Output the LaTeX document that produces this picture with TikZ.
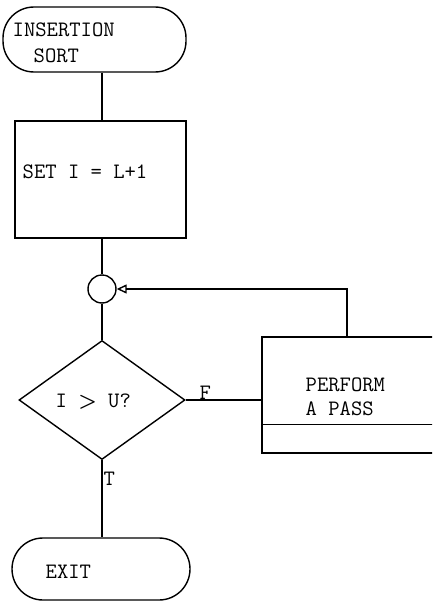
\documentclass[tikz,border=0pt]{standalone}
\usepackage{amsmath}
\usepackage{tikz}
\usetikzlibrary{shapes.geometric, arrows.meta, positioning}

\tikzset{
  terminal/.style={draw, rectangle, rounded corners=31pt, inner sep=0pt},
  procbox/.style={draw, rectangle, inner sep=0pt},
  joint/.style={draw, circle, minimum size=28pt, inner sep=0pt},
  decision/.style={draw, diamond, inner sep=0pt},
  txt/.style={anchor=base west, inner sep=0pt, font=\fontsize{22}{26}\ttfamily},
}

\begin{document}
\begin{tikzpicture}[x=1pt, y=-1pt, line width=1.4pt]
   \useasboundingbox (0,0) rectangle (432,602);
   \clip (0,0) rectangle (432,602);

   % start terminal
   \node[terminal, minimum width=183pt, minimum height=65pt] (start) at (94.5,39.5) {};
   \node[txt] (startA) at (12,37) {INSERTION};
   \node[txt] (startB) at (33,63) {SORT};

   % set I
   \node[procbox, minimum width=171pt, minimum height=117pt] (setI) at (100.5,179.5) {};
   \node[txt] (setT) at (22,178) {SET I = L+1};

   % connector circle
   \node[joint] (join) at (102,289) {};

   % test
   \node[decision, minimum width=166pt, minimum height=119pt] (test) at (102,400) {};
   \node[txt] (testT) at (55,407) {I $\boldsymbol{>}$ U?};

   % pass box (runs off the right edge)
   \node[procbox, minimum width=208pt, minimum height=116pt] (pass) at (366,395) {};
   \draw ([yshift=29pt]pass.south west) -- ([yshift=29pt]pass.south east);
   \node[txt] (passA) at (305,391) {PERFORM};
   \node[txt] (passB) at (305,415) {A PASS};

   % exit terminal
   \node[terminal, minimum width=178pt, minimum height=62pt] (exit) at (101,569) {};
   \node[txt] (exitT) at (45,578) {EXIT};

   % return point above the pass box
   \coordinate (back) at ([xshift=-19pt]pass.north);

   \draw (join.north |- start.south) -- (join.north |- setI.north);
   \draw (join.north |- setI.south) -- (join.north);
   \draw (join.south) -- (test.north);
   \draw (test.east) -- (test.east -| pass.west);
   \draw (test.south) -- (test.south |- exit.north);
   \draw[-{Triangle[open, length=10pt, width=9pt]}] (back) |- (join.east);

   % branch labels
   \node[txt] (labF) at (199,399) {F};
   \node[txt] (labT) at (103,485) {T};
\end{tikzpicture}
\end{document}
